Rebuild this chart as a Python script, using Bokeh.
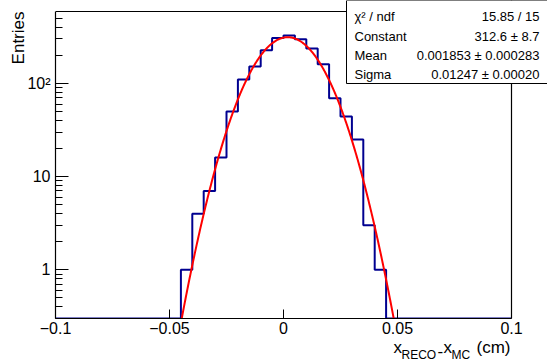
import numpy as np
from bokeh.plotting import figure
from bokeh.models import (Range1d, FixedTicker, CustomJSTickFormatter, Label, BoxAnnotation,
                          Span, Title)
from bokeh.embed import file_html
from bokeh.resources import INLINE

# ---------------- data ----------------
x_min, x_max = -0.1, 0.1
bin_width = 0.005
# 40 bins from -0.1 to 0.1
counts = [0, 0, 0, 0, 0, 0, 0, 0, 0, 0,
          0, 1, 4, 7, 16, 50, 110, 152, 226, 307,
          326, 297, 236, 160, 69, 44, 25, 3, 1, 0,
          0, 0, 0, 0, 0, 0, 0, 0, 0, 0]

fit_constant = 312.6
fit_mean = 0.001853
fit_sigma = 0.01247

stats_names = ["\u03c7\u00b2 / ndf", "Constant", "Mean", "Sigma"]
stats_values = ["15.85 / 15", "312.6 \u00b1 8.7", "0.001853 \u00b1 0.000283", "0.01247 \u00b1 0.00020"]

x_ticks = [-0.1, -0.05, 0, 0.05, 0.1]
y_ticks = [1, 10, 100]
y_minor_ticks = [0.3, 0.4, 0.5, 0.6, 0.7, 0.8, 0.9,
                 2, 3, 4, 5, 6, 7, 8, 9,
                 20, 30, 40, 50, 60, 70, 80, 90,
                 200, 300, 400, 500]
y_min, y_max = 0.3, 590

y_title = "Entries"
# x title: x_{RECO}-x_{MC} (cm), as (text, is_subscript)
x_title_parts = [("x", False), ("RECO", True), ("-", False), ("x", False), ("MC", True), ("(cm)", False)]

FONT = "Liberation Sans"

# ---------------- layout (canvas pixels) ----------------
W, H = 547, 360
VIS_LEFT, VIS_RIGHT, VIS_TOP, VIS_BOTTOM = 55, 511, 11, 318   # visible ROOT frame
px_per_x = (VIS_RIGHT - VIS_LEFT) / (x_max - x_min)
dec_per_px = (np.log10(y_max) - np.log10(y_min)) / (VIS_BOTTOM - VIS_TOP)
x_end = x_max + (W - VIS_RIGHT) / px_per_x          # bokeh frame runs to canvas right edge
y_end = y_max * 10 ** (VIS_TOP * dec_per_px)        # bokeh frame runs to canvas top edge

# ---------------- figure ----------------
p = figure(width=W, height=H, output_backend="svg", toolbar_location=None,
           y_axis_type="log",
           x_range=Range1d(x_min, x_end), y_range=Range1d(y_min, y_end),
           min_border_left=VIS_LEFT, min_border_right=0, min_border_top=0,
           min_border_bottom=H - VIS_BOTTOM)
p.background_fill_color = "white"
p.border_fill_color = "white"
p.grid.visible = False
p.outline_line_color = None

for ax in (p.xaxis[0], p.yaxis[0]):
    ax.axis_line_color = "black"
    ax.axis_line_width = 1.2
    ax.major_tick_line_color = "black"
    ax.minor_tick_line_color = "black"
    ax.major_label_text_font = FONT
    ax.major_label_text_font_size = "16px"
    ax.major_label_text_color = "black"
    ax.major_tick_out = 0

p.xaxis.bounds = (x_min, x_max)
p.xaxis.ticker = FixedTicker(ticks=x_ticks)
p.xaxis.formatter = CustomJSTickFormatter(code="return tick < 0 ? '\u2212' + String(Math.abs(tick)) : String(tick);")
p.xaxis.major_tick_in = 9
p.xaxis.minor_tick_line_color = None
p.xaxis.major_label_standoff = 3

p.yaxis.bounds = (y_min, y_max)
p.yaxis.ticker = FixedTicker(ticks=y_ticks, minor_ticks=y_minor_ticks)
p.yaxis.formatter = CustomJSTickFormatter(code="return tick >= 100 ? '10\u00b2' : String(tick);")
p.yaxis.major_tick_in = 13
p.yaxis.minor_tick_in = 7
p.yaxis.minor_tick_out = 0
p.yaxis.major_label_standoff = 5

# frame top and right edges
p.add_layout(Span(location=y_max, dimension="width", line_color="black", line_width=1.2))
p.add_layout(Span(location=x_max, dimension="height", line_color="black", line_width=1.2))

# ---------------- histogram ----------------
n_bins = len(counts)
edges = [x_min + i * bin_width for i in range(n_bins + 1)]
step_y = [c if c > 0 else y_min for c in counts]
step_y = step_y + [step_y[-1]]
p.step(x=edges, y=step_y, mode="after", line_color="#000090", line_width=2)

# ---------------- fit ----------------
xf = np.linspace(x_min, x_max, 1200)
yf = fit_constant * np.exp(-0.5 * ((xf - fit_mean) / fit_sigma) ** 2)
p.line(xf, yf, line_color="#ff0000", line_width=2)

# ---------------- stats box (screen units relative to frame) ----------------
FL, FB = VIS_LEFT, VIS_BOTTOM
def rx(X):
    return X - FL
def ry(Y):
    return FB - Y

box = BoxAnnotation(left=rx(346), right=rx(W), top=ry(0), bottom=ry(83),
                    left_units="screen", right_units="screen", top_units="screen", bottom_units="screen",
                    fill_color="white", fill_alpha=1.0, line_color="black", line_width=1, line_alpha=1.0)
p.add_layout(box)

row_y = [16, 36, 55, 74]
for name, val, Y in zip(stats_names, stats_values, row_y):
    p.add_layout(Label(x=rx(354), y=ry(Y), x_units="screen", y_units="screen", text=name,
                       text_font=FONT, text_font_size="13px", text_color="black",
                       text_align="left", text_baseline="middle"))
    p.add_layout(Label(x=rx(539), y=ry(Y), x_units="screen", y_units="screen", text=val,
                       text_font=FONT, text_font_size="13px", text_color="black",
                       text_align="right", text_baseline="middle"))

# ---------------- y title ----------------
p.add_layout(Title(text=y_title, align="right", offset=VIS_TOP, standoff=-6,
                   text_font=FONT, text_font_size="17px", text_font_style="normal",
                   text_color="black"), "left")

# ---------------- x title pieces: zero-height title panels below the x axis ----------------
part_left = [393, 401, 437, 443, 451, 476]
for (txt, is_sub), X in zip(x_title_parts, part_left):
    size = "12px" if is_sub else "17px"
    standoff = -50 if is_sub else -40
    p.add_layout(Title(text=txt, align="left", vertical_align="bottom", offset=X - VIS_LEFT,
                       standoff=standoff, text_font=FONT, text_font_size=size,
                       text_font_style="normal", text_color="black"), "below")

open("out.html", "w").write(file_html(p, INLINE))
